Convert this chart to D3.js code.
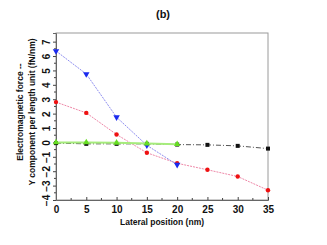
<!DOCTYPE html>
<html>
<head>
<meta charset="utf-8">
<script src="https://cdn.jsdelivr.net/npm/d3@7"></script>
<style>
  body { margin: 0; background: #fff; }
  text { font-family: "Liberation Sans", Arial, sans-serif; font-weight: bold; fill: #111; }
</style>
</head>
<body>
<svg id="chart" width="327" height="245"></svg>
<script>
// values
const xs = [0, 5, 10, 15, 20, 25, 30, 35];
const blueY = [6.35, 4.75, 1.75, -0.2, -1.55];
const redY = [2.8, 2.05, 0.55, -0.72, -1.45, -1.9, -2.37, -3.32];
const blackY = [-0.05, -0.1, -0.1, -0.1, -0.15, -0.17, -0.24, -0.43];
const greenY = [0.0, 0.0, -0.03, -0.08, -0.12];
const xTicks = [0, 5, 10, 15, 20, 25, 30, 35];
const yTicks = [-4, -3, -2, -1, 0, 1, 2, 3, 4, 5, 6, 7];

const svg = d3.select("#chart");
const x = d3.scaleLinear().domain([0, 35]).range([56, 268]);
const y = d3.scaleLinear().domain([-4, 7.6]).range([200, 33]);

// frame
svg.append("rect")
    .attr("x", 56).attr("y", 33)
    .attr("width", 212).attr("height", 167)
    .attr("fill", "none").attr("stroke", "#9a9a9a").attr("stroke-width", 1);

// x axis, ticks pointing in
const xAxis = svg.append("g").attr("transform", "translate(0,200)");
xAxis.call(d3.axisBottom(x).tickValues(xTicks).tickSize(-3).tickPadding(6).tickFormat(d3.format("d")));
xAxis.selectAll(".tick text").attr("font-size", 10);
xAxis.append("g").selectAll("line")
    .data(d3.range(2.5, 35, 5))
    .join("line")
    .attr("x1", d => x(d)).attr("x2", d => x(d))
    .attr("y1", 0).attr("y2", -2)
    .attr("stroke", "#444");

// y axis, rotated labels
const yAxis = svg.append("g").attr("transform", "translate(56,0)");
yAxis.call(d3.axisLeft(y).tickValues(yTicks).tickSize(3).tickPadding(3).tickFormat(d3.format("d")));
yAxis.selectAll(".tick text")
    .attr("font-size", 10)
    .attr("text-anchor", "middle")
    .attr("dy", 0)
    .attr("transform", "translate(-6,0) rotate(-90)")
    .attr("x", 0).attr("y", 0);
yAxis.append("g").selectAll("line")
    .data(d3.range(-3.5, 7.5, 1))
    .join("line")
    .attr("y1", d => y(d)).attr("y2", d => y(d))
    .attr("x1", 0).attr("x2", -2)
    .attr("stroke", "#444");
svg.selectAll(".domain").attr("stroke", "#666");
svg.selectAll(".tick line").attr("stroke", "#444");

// series
const line = d3.line().x(d => x(d[0])).y(d => y(d[1]));
function series(vals, color, width, dash) {
  const pts = vals.map((v, i) => [xs[i], v]);
  svg.append("path").datum(pts)
      .attr("d", line)
      .attr("fill", "none")
      .attr("stroke", color)
      .attr("stroke-width", width)
      .attr("stroke-dasharray", dash);
  return pts;
}

const blackPts = series(blackY, "#555", 1, "5,2,1,2");
svg.append("g").selectAll("rect").data(blackPts).join("rect")
    .attr("x", d => x(d[0]) - 2).attr("y", d => y(d[1]) - 2)
    .attr("width", 4).attr("height", 4).attr("fill", "#111");

const redPts = series(redY, "#ee88a8", 1, "2,1");
svg.append("g").selectAll("circle").data(redPts).join("circle")
    .attr("cx", d => x(d[0])).attr("cy", d => y(d[1]))
    .attr("r", 2.2).attr("fill", "#ee1111");

const bluePts = series(blueY, "#8f8ff0", 1, "2,1");
svg.append("g").selectAll("path").data(bluePts).join("path")
    .attr("d", d3.symbol(d3.symbolTriangle, 18))
    .attr("transform", d => `translate(${x(d[0])},${y(d[1])}) rotate(180)`)
    .attr("fill", "#1a2aee");

const greenPts = series(greenY, "#a6ec7c", 2, null);
svg.append("g").selectAll("path").data(greenPts).join("path")
    .attr("d", d3.symbol(d3.symbolTriangle, 18))
    .attr("transform", d => `translate(${x(d[0])},${y(d[1])})`)
    .attr("fill", "#66dd22");

// labels
svg.append("text").attr("x", 163).attr("y", 18)
    .attr("text-anchor", "middle").attr("font-size", 11).text("(b)");
svg.append("text").attr("x", 162).attr("y", 225)
    .attr("text-anchor", "middle").attr("font-size", 8.5).text("Lateral position (nm)");
svg.append("text")
    .attr("transform", "translate(23,112) rotate(-90)")
    .attr("text-anchor", "middle").attr("font-size", 8.5).text("Electromagnetic force --");
svg.append("text")
    .attr("transform", "translate(35,112) rotate(-90)")
    .attr("text-anchor", "middle").attr("font-size", 8.5).text("Y component per length unit (fN/nm)");
</script>
</body>
</html>
